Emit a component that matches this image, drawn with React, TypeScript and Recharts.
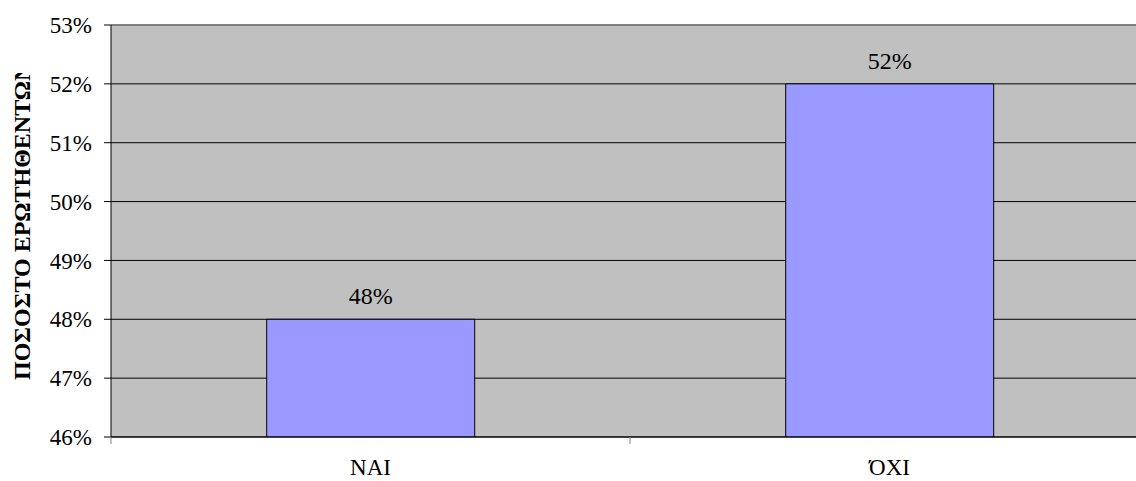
import React from 'react';
import { BarChart, Bar, XAxis, YAxis, CartesianGrid, LabelList, ReferenceLine } from 'recharts';

// Answers (percent of respondents)
const categories = ['NAI', 'ΌΧΙ'];
const percentages = [48, 52];
const yTicks = [46, 47, 48, 49, 50, 51, 52, 53];
const axisTitle = 'ΠΟΣΟΣΤΟ ΕΡΩΤΗΘΕΝΤΩΝ';

const data = categories.map((name, i) => ({ name, value: percentages[i] }));

const FONT = 'Liberation Serif';

// category label + the small tick marks that sit between categories
const XTick = (props: any) => {
  const { x, y, payload, index, visibleTicksCount } = props;
  const offset = payload && payload.offset ? payload.offset : 0;
  const axisY = y - 27;
  return (
    <g>
      {offset > 0 && (
        <line x1={x - offset} x2={x - offset} y1={axisY} y2={axisY + 7} stroke="#808080" />
      )}
      {offset > 0 && index === visibleTicksCount - 1 && (
        <line x1={x + offset} x2={x + offset} y1={axisY} y2={axisY + 7} stroke="#808080" />
      )}
      <text x={x} y={y} dy={11} textAnchor="middle" fontFamily={FONT} fontSize={23} fill="#000">
        {payload.value}
      </text>
    </g>
  );
};

const YTitle = () => (
  <g>
    <defs>
      <clipPath id="ytitle-clip">
        <rect x={0} y={73} width={60} height={400} />
      </clipPath>
    </defs>
    <g clipPath="url(#ytitle-clip)">
      <text
        x={30}
        y={380}
        transform="rotate(-90 30 380)"
        textAnchor="start"
        fontFamily={FONT}
        fontWeight="bold"
        fontSize={24}
        fill="#000"
      >
        {axisTitle}
      </text>
    </g>
  </g>
);

const App: React.FC = () => {
  return (
    <div style={{ width: 1136, height: 481, overflow: 'hidden', background: '#fff' }}>
      <style>{'body{margin:0;overflow:hidden}'}</style>
      <BarChart
        width={1160}
        height={481}
        data={data}
        margin={{ top: 25, right: 11, bottom: 0, left: 0 }}
        barCategoryGap="30%"
      >
        <CartesianGrid vertical={false} stroke="#000" fill="#C0C0C0" />
        <XAxis
          dataKey="name"
          height={44}
          axisLine={{ stroke: '#000' }}
          tickLine={false}
          tickSize={7}
          tickMargin={20}
          tick={<XTick />}
          interval={0}
        />
        <YAxis
          width={111}
          domain={[46, 53]}
          ticks={yTicks}
          interval={0}
          allowDataOverflow
          tickFormatter={(v: number) => `${v}%`}
          axisLine={{ stroke: '#000' }}
          tickLine={{ stroke: '#000' }}
          tickSize={7}
          tickMargin={12}
          tick={{ fontSize: 23, fill: '#000', fontFamily: FONT }}
          label={<YTitle />}
        />
        <ReferenceLine y={yTicks[yTicks.length - 1]} stroke="#808080" strokeWidth={2} />
        <Bar dataKey="value" fill="#9999FF" stroke="#000" strokeWidth={1} isAnimationActive={false}>
          <LabelList
            dataKey="value"
            position="top"
            offset={15}
            formatter={(v: any) => `${v}%`}
            fontFamily={FONT}
            fontSize={24}
            fill="#000"
          />
        </Bar>
      </BarChart>
    </div>
  );
};

export default App;
